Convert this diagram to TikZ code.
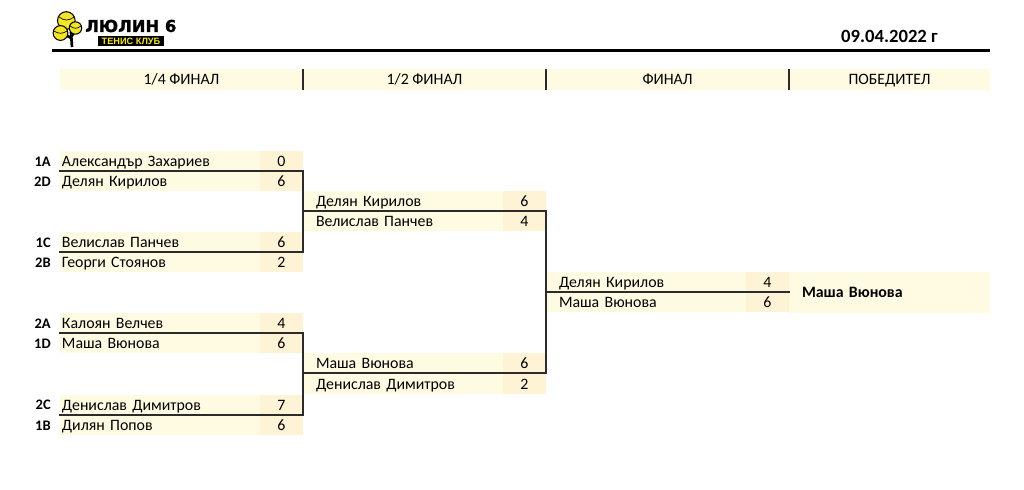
\documentclass[tikz,border=0pt]{standalone}
\usepackage{fontspec}
\setmainfont{Carlito}
\newfontfamily\logofont[FakeBold=1.6]{DejaVu Sans Bold}
\newfontfamily\logosubfont{Liberation Sans Bold}
\definecolor{namefill}{HTML}{FFFBE3}
\definecolor{scorefill}{HTML}{FFF3D6}
\definecolor{linec}{HTML}{2B2B2B}
\definecolor{ball}{HTML}{F2E52A}
\newcommand{\nmcell}[4]{\node[namecell,anchor=north west] (#1) at (#2,#3) {#4};}
\newcommand{\sccell}[4]{\node[scorecell,anchor=north west] (#1) at (#2,#3) {#4};}
\tikzset{
  x=0.75pt,y=-0.75pt,
  textfix/.style={text height=10.2pt,text depth=2pt},
  namecell/.style={textfix,fill=namefill,minimum width=150pt,minimum height=15.2pt,inner sep=0pt,outer sep=0pt,text width=150pt,align=left,font=\fontsize{11.9pt}{12pt}\selectfont},
  scorecell/.style={textfix,fill=scorefill,minimum width=32.25pt,minimum height=15.2pt,inner sep=0pt,outer sep=0pt,align=center,font=\fontsize{11.9pt}{12pt}\selectfont},
  headcell/.style={textfix,fill=namefill,minimum width=182.25pt,minimum height=15.75pt,inner sep=0pt,outer sep=0pt,align=center,font=\fontsize{11.9pt}{12pt}\selectfont},
  seedlabel/.style={textfix,anchor=east,inner sep=0pt,font=\bfseries\fontsize{10.9pt}{12pt}\selectfont},
  bracket/.style={draw=linec,line width=1.2pt,line cap=rect},
  sep/.style={draw=linec,line width=1.5pt},
  tball/.style={fill=ball,draw=black,line width=0.8pt},
}
\begin{document}
\begin{tikzpicture}
\useasboundingbox (0,0) rectangle (1024,489);
% header
\coordinate (hl) at (52,50.5); \coordinate (hr) at (990,50.5);
\draw[line width=1.9pt] (hl) -- (hr);
\node[anchor=east,inner sep=0pt,font=\bfseries\fontsize{14pt}{15pt}\selectfont] (date) at (938,36.5) {09.04.2022 г};
% logo
\draw[line width=2pt,black] (72,47) -- (71,32) (71,38) -- (64,34) (71,37) -- (76,30);
\draw[tball] (66.3,20.5) circle (8.8);
\draw[tball] (75.5,28) circle (6.2);
\draw[tball] (60.5,33) circle (7.4);
\draw[line width=0.5pt] (59,17) .. controls (64,21) and (69,21) .. (74,17);
\draw[line width=0.5pt] (54,31) .. controls (58,34) and (63,34) .. (67,31);
\draw[line width=0.5pt] (70,26) .. controls (74,29) and (77,29) .. (81,26);
\node[anchor=west,inner sep=0pt,font=\logofont\fontsize{12.3pt}{13pt}\selectfont] (logotext) at (85,26) {ЛЮЛИН 6};
\node[anchor=center,fill=black,text=ball,inner sep=0pt,minimum width=49.5pt,minimum height=7.8pt,font=\logosubfont\fontsize{6.9pt}{7pt}\selectfont] (logosub) at (131,41) {ТЕНИС КЛУБ};
% column heads
\node[headcell,anchor=north west] (h1) at (60,69) {1/4 ФИНАЛ};
\node[headcell,anchor=north west] (h2) at (303,69) {1/2 ФИНАЛ};
\node[headcell,anchor=north west] (h3) at (546,69) {ФИНАЛ};
\node[headcell,anchor=north west,minimum width=150.75pt] (h4) at (789,69) {ПОБЕДИТЕЛ};
\draw[sep] (h1.north east) -- (h1.south east);
\draw[sep] (h2.north east) -- (h2.south east);
\draw[sep] (h3.north east) -- (h3.south east);
% quarter finals
\nmcell{a1}{60}{151}{\hspace*{1.5pt}Александър Захариев}\sccell{as1}{260}{151}{0}
\nmcell{a2}{60}{171}{\hspace*{1.5pt}Делян Кирилов}\sccell{as2}{260}{171}{6}
\nmcell{a3}{60}{232}{\hspace*{1.5pt}Велислав Панчев}\sccell{as3}{260}{232}{6}
\nmcell{a4}{60}{252}{\hspace*{1.5pt}Георги Стоянов}\sccell{as4}{260}{252}{2}
\nmcell{a5}{60}{313}{\hspace*{1.5pt}Калоян Велчев}\sccell{as5}{260}{313}{4}
\nmcell{a6}{60}{333}{\hspace*{1.5pt}Маша Вюнова}\sccell{as6}{260}{333}{6}
\nmcell{a7}{60}{394.5}{\hspace*{1.5pt}Денислав Димитров}\sccell{as7}{260}{394.5}{7}
\nmcell{a8}{60}{414.5}{\hspace*{1.5pt}Дилян Попов}\sccell{as8}{260}{414.5}{6}
% seeds
\node[seedlabel] (s1) at (51,161) {1A};
\node[seedlabel] (s2) at (51,181.5) {2D};
\node[seedlabel] (s3) at (51,242) {1C};
\node[seedlabel] (s4) at (51,262.5) {2B};
\node[seedlabel] (s5) at (51,323) {2A};
\node[seedlabel] (s6) at (51,343.5) {1D};
\node[seedlabel] (s7) at (51,404.5) {2C};
\node[seedlabel] (s8) at (51,425) {1B};
% semi finals
\nmcell{b1}{303}{191}{\hspace*{9.75pt}Делян Кирилов}\sccell{bs1}{503}{191}{6}
\nmcell{b2}{303}{211}{\hspace*{9.75pt}Велислав Панчев}\sccell{bs2}{503}{211}{4}
\nmcell{b3}{303}{353}{\hspace*{9.75pt}Маша Вюнова}\sccell{bs3}{503}{353}{6}
\nmcell{b4}{303}{373.5}{\hspace*{9.75pt}Денислав Димитров}\sccell{bs4}{503}{373.5}{2}
% final
\nmcell{c1}{546}{272}{\hspace*{9.75pt}Делян Кирилов}\sccell{cs1}{746}{272}{4}
\nmcell{c2}{546}{292}{\hspace*{9.75pt}Маша Вюнова}\sccell{cs2}{746}{292}{6}
% winner
\node[namecell,anchor=north west,minimum width=150.75pt,minimum height=30.6pt,text width=150.75pt,font=\bfseries\fontsize{11.9pt}{12pt}\selectfont] (w) at (789,272) {\hspace*{9.75pt}Маша Вюнова};
% connectors
\draw[bracket] (a2.north west) -- (as2.north east) -- (as3.south east) -- (a3.south west);
\draw[bracket] (a6.north west) -- (as6.north east) -- (as7.south east) -- (a7.south west);
\draw[bracket] (as2.east |- bs2.north) -- (bs2.north east) -- (bs3.south east) -- (as6.east |- bs3.south);
\draw[bracket] (bs2.east |- cs2.north) -- (cs2.north east);
\end{tikzpicture}
\end{document}
